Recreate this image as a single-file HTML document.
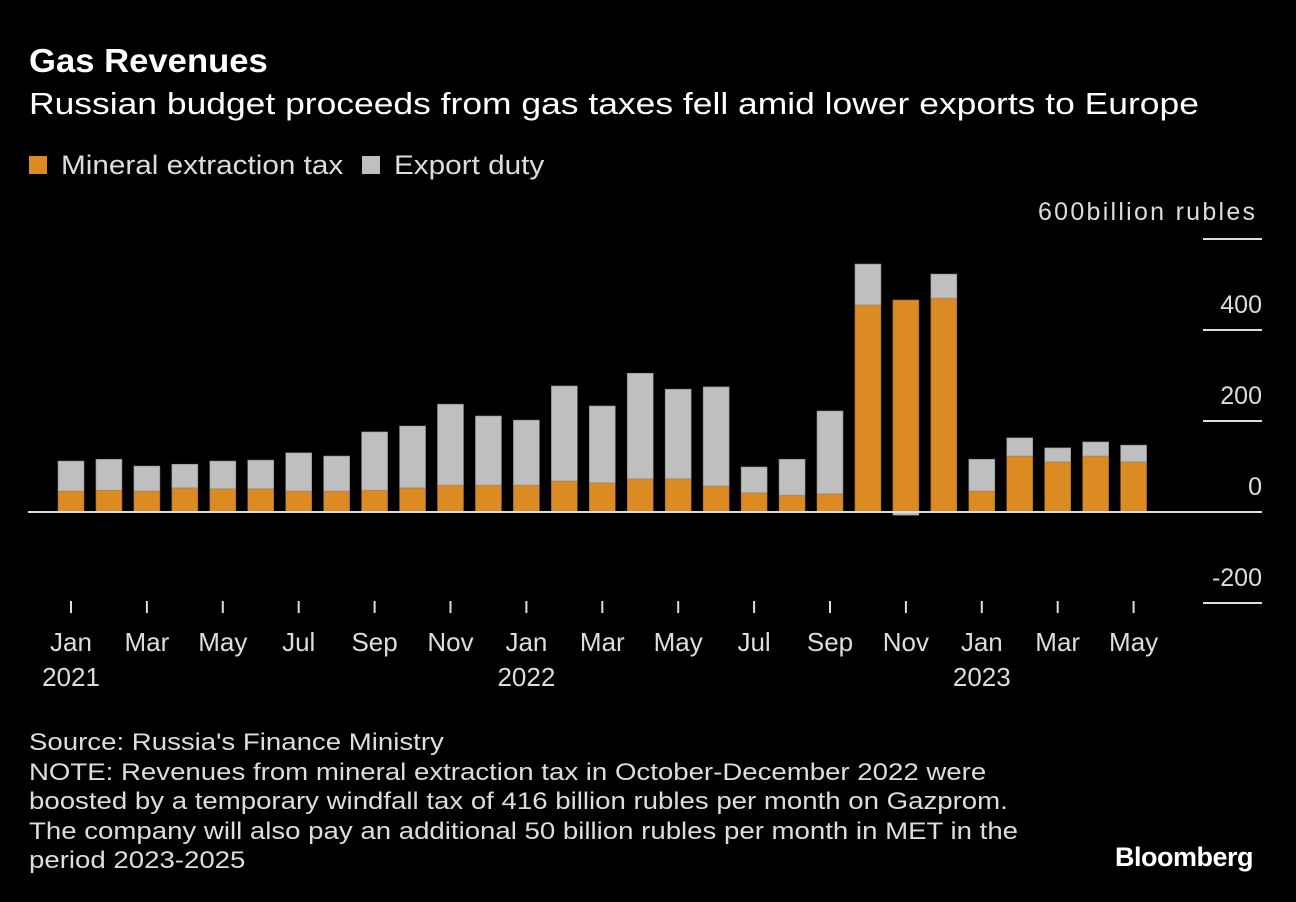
<!DOCTYPE html>
<html><head><meta charset="utf-8"><style>
body{margin:0;background:#000;width:1296px;height:902px;overflow:hidden;font-family:"Liberation Sans",sans-serif;color:#fff}
.t{position:absolute;white-space:nowrap;transform-origin:0 0}
</style></head><body>
<div class="t" style="left:29px;top:42px;font-size:33px;font-weight:bold;transform:scaleX(1.05)">Gas Revenues</div>
<div class="t" style="left:29px;top:86px;font-size:31px;transform:scaleX(1.143)">Russian budget proceeds from gas taxes fell amid lower exports to Europe</div>
<div class="t" style="left:29px;top:150px;font-size:27px;color:#ddd"><span style="display:inline-block;width:18px;height:18px;background:#dc8a22;margin-right:14px"></span><span style="display:inline-block;transform:scaleX(1.1);transform-origin:0 0">Mineral extraction tax</span></div>
<div class="t" style="left:362px;top:150px;font-size:27px;color:#ddd"><span style="display:inline-block;width:18px;height:18px;background:#bfbfbf;margin-right:14px"></span><span style="display:inline-block;transform:scaleX(1.1);transform-origin:0 0">Export duty</span></div>
<svg id="c" width="1296" height="902" style="position:absolute;left:0;top:0"></svg>
<div class="t" style="left:29px;top:728px;font-size:24px;line-height:29.5px;color:#ddd;transform:scaleX(1.15)">Source: Russia's Finance Ministry<br>NOTE: Revenues from mineral extraction tax in October-December 2022 were<br>boosted by a temporary windfall tax of 416 billion rubles per month on Gazprom.<br>The company will also pay an additional 50 billion rubles per month in MET in the<br>period 2023-2025</div>
<div class="t" style="left:1115px;top:842px;font-size:27px;font-weight:bold;letter-spacing:-0.5px">Bloomberg</div>
<script>
const months=["Jan","Feb","Mar","Apr","May","Jun","Jul","Aug","Sep","Oct","Nov","Dec","Jan","Feb","Mar","Apr","May","Jun","Jul","Aug","Sep","Oct","Nov","Dec","Jan","Feb","Mar","Apr","May"];
const met=[46,48,46,53,51,51,46,46,48,53,59,59,59,68,64,73,73,57,42,37,40,455,466,470,46,123,110,123,110];
const exportDuty=[66,68,55,52,61,63,84,77,128,136,178,152,143,209,169,232,197,218,57,79,182,90,-7,53,70,40,31,31,37];
const yTicks=[600,400,200,0,-200];
const svg=document.getElementById('c');const NS='http://www.w3.org/2000/svg';
const y=v=>512-v*0.455;const x=i=>71+i*37.95;const bw=26;
function mk(t,a){const e=document.createElementNS(NS,t);for(const k in a)e.setAttribute(k,a[k]);svg.appendChild(e);return e;}
yTicks.forEach(v=>{
 const l=mk('line',{x1:1203,x2:1262,y1:y(v),y2:y(v),stroke:'#ddd','stroke-width':2});
 
 
 const t=mk('text',{x:1262,y:y(v)-17,'text-anchor':'end','font-size':25,fill:'#ddd','font-family':'Liberation Sans, sans-serif'});
 t.textContent=v===600?'600billion rubles':String(v);
 if(v===600){t.setAttribute('x',1255);t.setAttribute('textLength',217);t.setAttribute('y',y(v)-19);}
 
 
});
months.forEach((m,i)=>{
 const cx=x(i);
 const r1=mk('rect',{x:cx-bw/2,y:Math.min(y(met[i]),y(0)),width:bw,height:Math.abs(y(0)-y(met[i])),fill:'#dc8a22',stroke:'#8a6a40','stroke-width':0.6});
 
 
 const e=exportDuty[i];
 let top,h;
 if(e>=0){top=y(met[i]+e);h=y(met[i])-top;}else{top=y(0);h=y(e)-y(0);}
 const r2=mk('rect',{x:cx-bw/2,y:top,width:bw,height:h,fill:'#bfbfbf',stroke:'#888','stroke-width':0.6});
 
 
 if(i%2===0){
  const tk=mk('line',{x1:cx,x2:cx,y1:601,y2:613,stroke:'#ddd','stroke-width':2});
  
  
  const t=mk('text',{x:cx,y:651,'text-anchor':'middle','font-size':26,fill:'#ddd','font-family':'Liberation Sans, sans-serif'});
  t.textContent=m;
  
  
  if(i%12===0){const yt=mk('text',{x:cx,y:686,'text-anchor':'middle','font-size':26,fill:'#ddd','font-family':'Liberation Sans, sans-serif'});
   yt.textContent=String(2021+i/12);
   
   }
 }
});
const z=mk('line',{x1:28,x2:1262,y1:y(0),y2:y(0),stroke:'#ddd','stroke-width':2});


</script>
</body></html>
